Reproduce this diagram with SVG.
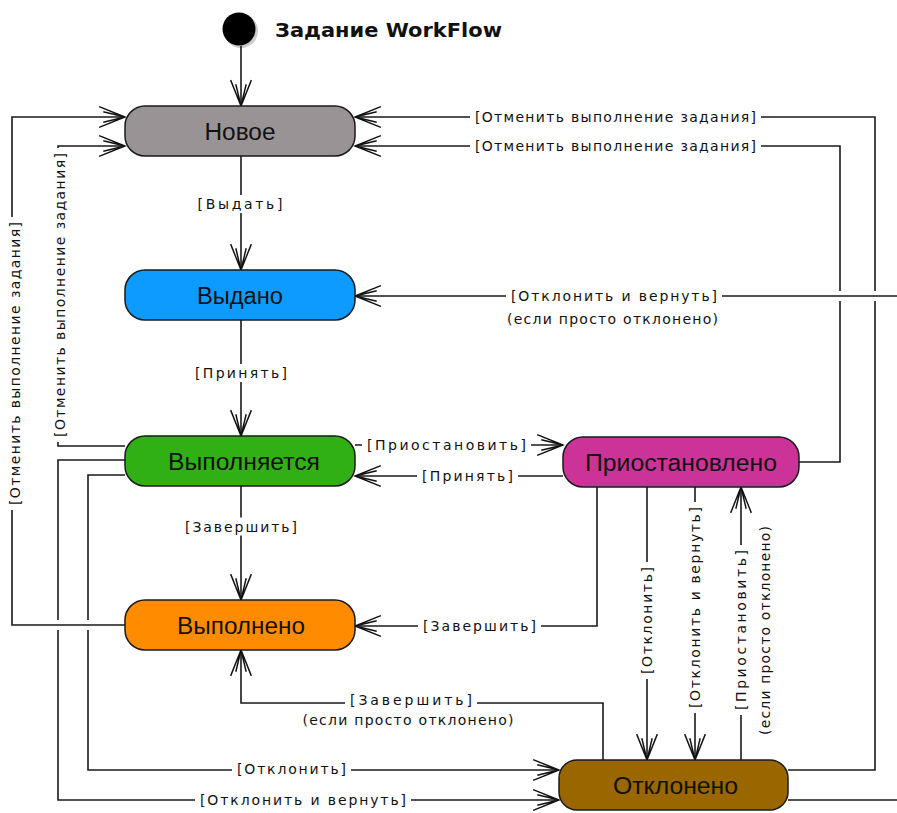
<svg xmlns="http://www.w3.org/2000/svg" width="897" height="813" viewBox="0 0 897 813">
<style>
.node rect{stroke:#1a1a1a;stroke-width:1.5}
.node text{font-family:"Liberation Sans",Arial,sans-serif;font-size:23px;fill:#111;text-anchor:middle}
.c{fill:none;stroke:#1a1a1a;stroke-width:1.6}
.a{marker-end:url(#arr)}
.halo{fill:none;stroke:#fff;stroke-width:10}
.bg{fill:#fff;stroke:none}
.lbl{font-family:"DejaVu Sans",sans-serif;font-size:14px;fill:#111;text-anchor:middle}
.title{font-family:"DejaVu Sans",sans-serif;font-weight:bold;font-size:19px;fill:#111}
</style>
<defs>
<marker id="arr" markerUnits="userSpaceOnUse" markerWidth="30" markerHeight="30" viewBox="-27 -14 29 28" refX="0" refY="0" orient="auto">
<path d="M-25,-10 L0,0 L-25,10 M-21,-5 L0,0 L-21,5" fill="none" stroke="#111" stroke-width="1.4"/>
</marker>
</defs>
<rect width="897" height="813" fill="#fff"/>

<g id="start">
<circle cx="241" cy="31" r="17" fill="#999" opacity="0.5"/>
<circle cx="239" cy="29" r="16.5" fill="#000"/>
<text class="title" x="275" y="37" textLength="227" lengthAdjust="spacingAndGlyphs">Задание WorkFlow</text>
</g>

<g id="connectors">
<path class="c a" d="M241,46 V106"/>
<path class="c a" d="M241,156 V270"/>
<path class="c a" d="M241,320 V436"/>
<path class="c a" d="M241,486 V600"/>
<path class="c a" d="M355,445 H563"/>
<path class="c a" d="M563,476 H355"/>
<path class="c a" d="M597,487 V626 H355"/>
<path class="c a" d="M647,487 V760"/>
<path class="c a" d="M695,487 V760"/>
<path class="c a" d="M741,760 V487"/>
<path class="c a" d="M603,760 V703 H241 V650"/>
<path class="c a" d="M125,475 H88 V770 H559"/>
<path class="c a" d="M125,460 H58 V800 H559"/>
<path class="c a" d="M125,446 H58 V146 H125"/>
<path class="c a" d="M799,462 H840 V146 H355"/>
<path class="c a" d="M788,770 H875 V117 H355"/>
<path class="halo" d="M100,625 H40"/>
<path class="c a" d="M125,625 H12 V117 H125"/>
<path class="halo" d="M897,296 H820"/>
<path class="c a" d="M788,800 H910 V296 H355"/>

<rect class="bg" x="192.5" y="195" width="95" height="18"/>
<rect class="bg" x="190" y="364" width="102" height="18"/>
<rect class="bg" x="180" y="517.5" width="122" height="18"/>
<rect class="bg" x="362" y="436" width="169" height="18"/>
<rect class="bg" x="417" y="467" width="101" height="18"/>
<rect class="bg" x="418" y="617" width="123" height="18"/>
<rect class="bg" x="470" y="108" width="291" height="18"/>
<rect class="bg" x="470" y="137" width="291" height="18"/>
<rect class="bg" x="506" y="287" width="216" height="18"/>
<rect class="bg" x="345" y="691" width="132" height="18"/>
<rect class="bg" x="232" y="760" width="119" height="18"/>
<rect class="bg" x="195" y="791" width="216" height="18"/>
<rect class="bg" x="6" y="217" width="18" height="293"/>
<rect class="bg" x="51" y="148" width="18" height="294"/>
<rect class="bg" x="638" y="562" width="18" height="117"/>
<rect class="bg" x="686" y="502" width="18" height="211"/>
<rect class="bg" x="732" y="545" width="18" height="170"/>

<text class="lbl" x="240" y="209" textLength="85">[Выдать]</text>
<text class="lbl" x="241" y="378" textLength="92">[Принять]</text>
<text class="lbl" x="241" y="531.5" textLength="112">[Завершить]</text>
<text class="lbl" x="446.5" y="450" textLength="159">[Приостановить]</text>
<text class="lbl" x="467.5" y="481" textLength="91">[Принять]</text>
<text class="lbl" x="479.5" y="631" textLength="113">[Завершить]</text>
<text class="lbl" x="615.5" y="122" textLength="281">[Отменить выполнение задания]</text>
<text class="lbl" x="615.5" y="151" textLength="281">[Отменить выполнение задания]</text>
<text class="lbl" x="614" y="301" textLength="206">[Отклонить и вернуть]</text>
<text class="lbl" x="612.5" y="324" textLength="211">(если просто отклонено)</text>
<text class="lbl" x="411" y="705" textLength="122">[Завершить]</text>
<text class="lbl" x="408" y="725" textLength="211">(если просто отклонено)</text>
<text class="lbl" x="291.5" y="774" textLength="109">[Отклонить]</text>
<text class="lbl" x="303" y="805" textLength="206">[Отклонить и вернуть]</text>
<text class="lbl" transform="translate(15,363.5) rotate(-90)" x="0" y="5" textLength="283">[Отменить выполнение задания]</text>
<text class="lbl" transform="translate(60,295) rotate(-90)" x="0" y="5" textLength="284">[Отменить выполнение задания]</text>
<text class="lbl" transform="translate(647,620.5) rotate(-90)" x="0" y="5" textLength="107">[Отклонить]</text>
<text class="lbl" transform="translate(695,607.5) rotate(-90)" x="0" y="5" textLength="201">[Отклонить и вернуть]</text>
<text class="lbl" transform="translate(741,630) rotate(-90)" x="0" y="5" textLength="160">[Приостановить]</text>
<text class="lbl" transform="translate(765,630.5) rotate(-90)" x="0" y="5" textLength="209">(если просто отклонено)</text>
</g>

<g id="n_new" class="node">
<rect x="125" y="106" width="230" height="50" rx="20" fill="#9a9395"/>
<text x="240" y="139.5" textLength="71" lengthAdjust="spacingAndGlyphs">Новое</text>
</g>
<g id="n_issued" class="node">
<rect x="125" y="270" width="230" height="50" rx="20" fill="#0d9bff"/>
<text x="240" y="303.5" textLength="86" lengthAdjust="spacingAndGlyphs">Выдано</text>
</g>
<g id="n_running" class="node">
<rect x="125" y="436" width="230" height="50" rx="20" fill="#30b014"/>
<text x="244" y="469.5" textLength="152" lengthAdjust="spacingAndGlyphs">Выполняется</text>
</g>
<g id="n_done" class="node">
<rect x="125" y="600" width="230" height="50" rx="20" fill="#ff8c00"/>
<text x="241" y="633.5" textLength="128" lengthAdjust="spacingAndGlyphs">Выполнено</text>
</g>
<g id="n_paused" class="node">
<rect x="563" y="437" width="236" height="50" rx="20" fill="#cc3399"/>
<text x="681" y="470.5" textLength="192" lengthAdjust="spacingAndGlyphs">Приостановлено</text>
</g>
<g id="n_rejected" class="node">
<rect x="559" y="760" width="229" height="50" rx="18" fill="#996600"/>
<text x="675.5" y="793.5" textLength="125" lengthAdjust="spacingAndGlyphs">Отклонено</text>
</g>
</svg>
